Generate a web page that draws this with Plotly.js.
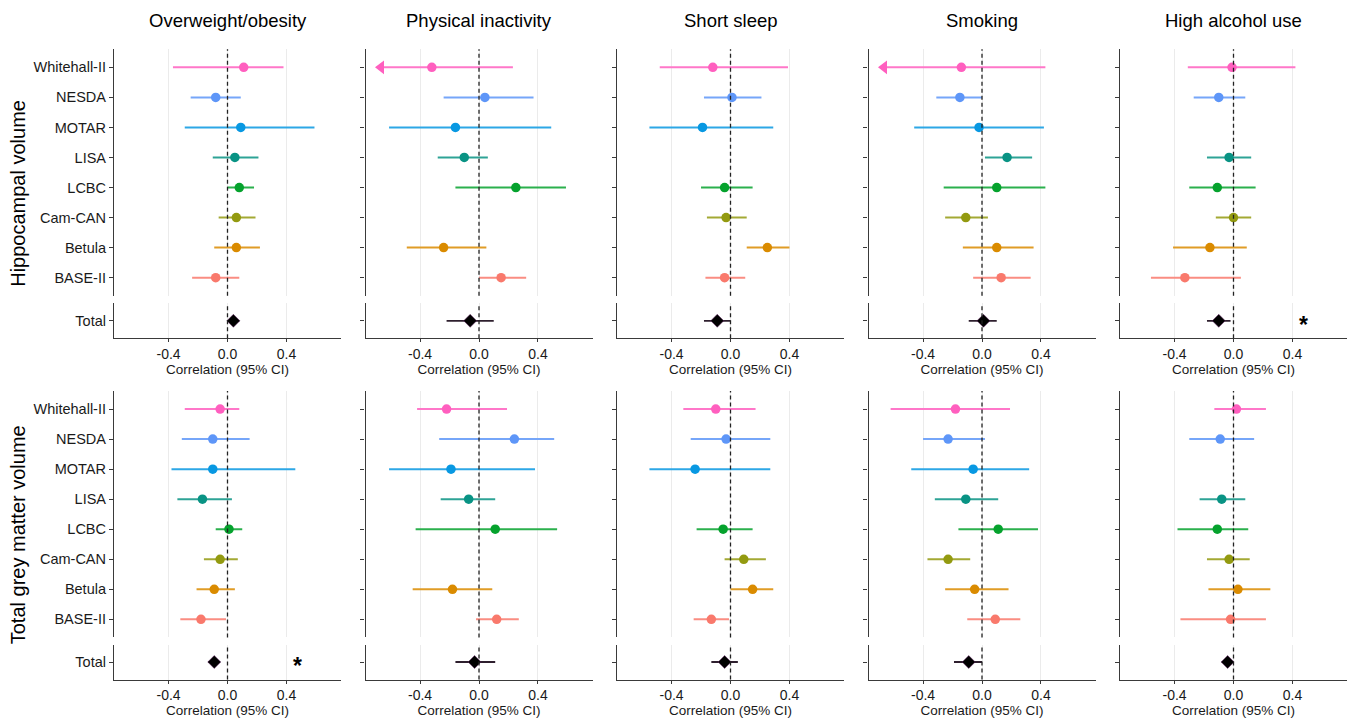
<!DOCTYPE html>
<html>
<head>
<meta charset="utf-8">
<script src="https://cdn.plot.ly/plotly-3.0.1.min.js"></script>
<style>html,body{margin:0;padding:0;background:#fff;}#chart{width:1349px;height:718px;}</style>
</head>
<body>
<div id="chart"></div>
<script>
// ---------- DATA ----------
const studies = ['Whitehall-II','NESDA','MOTAR','LISA','LCBC','Cam-CAN','Betula','BASE-II'];
const factors = ['Overweight/obesity','Physical inactivity','Short sleep','Smoking','High alcohol use'];
const outcomes = ['Hippocampal volume','Total grey matter volume'];
const xTickVals = [-0.4, 0, 0.4];
const xTickText = ['-0.4','0.0','0.4'];
const xLabel = 'Correlation (95% CI)';

// Hippocampal volume: rows = factors, columns = studies
const hippEst = [
  [0.11, -0.08, 0.09, 0.05, 0.08, 0.06, 0.06, -0.08],
  [-0.32, 0.04, -0.16, -0.10, 0.25, null, -0.24, 0.15],
  [-0.12, 0.01, -0.19, null, -0.04, -0.03, 0.25, -0.04],
  [-0.14, -0.15, -0.02, 0.17, 0.10, -0.11, 0.10, 0.13],
  [-0.01, -0.10, null, -0.03, -0.11, 0.00, -0.16, -0.33]
];
const hippLo = [
  [-0.37, -0.25, -0.29, -0.10, 0.00, -0.06, -0.09, -0.24],
  [-0.80, -0.24, -0.61, -0.28, -0.16, null, -0.49, 0.00],
  [-0.48, -0.18, -0.55, null, -0.20, -0.16, 0.11, -0.17],
  [-0.80, -0.31, -0.46, 0.02, -0.26, -0.25, -0.13, -0.06],
  [-0.31, -0.27, null, -0.18, -0.30, -0.12, -0.41, -0.56]
];
const hippHi = [
  [0.38, 0.09, 0.59, 0.21, 0.18, 0.19, 0.22, 0.08],
  [0.23, 0.37, 0.49, 0.06, 0.59, null, 0.05, 0.32],
  [0.39, 0.21, 0.29, null, 0.15, 0.11, 0.40, 0.10],
  [0.43, 0.00, 0.42, 0.34, 0.43, 0.04, 0.35, 0.33],
  [0.42, 0.08, null, 0.12, 0.15, 0.12, 0.09, 0.05]
];
const hippTotEst = [0.04, -0.06, -0.09, 0.01, -0.10];
const hippTotLo  = [0.00, -0.22, -0.18, -0.09, -0.18];
const hippTotHi  = [0.08, 0.10, 0.00, 0.10, -0.02];
const hippTotSig = [false, false, false, false, true];

// Total grey matter volume
const gmEst = [
  [-0.05, -0.10, -0.10, -0.17, 0.01, -0.05, -0.09, -0.18],
  [-0.22, 0.24, -0.19, -0.07, 0.11, null, -0.18, 0.12],
  [-0.10, -0.03, -0.24, null, -0.05, 0.09, 0.15, -0.13],
  [-0.18, -0.23, -0.06, -0.11, 0.11, -0.23, -0.05, 0.09],
  [0.02, -0.09, null, -0.08, -0.11, -0.03, 0.03, -0.02]
];
const gmLo = [
  [-0.29, -0.31, -0.38, -0.34, -0.08, -0.16, -0.21, -0.32],
  [-0.42, -0.27, -0.61, -0.26, -0.43, null, -0.45, -0.02],
  [-0.32, -0.27, -0.55, null, -0.23, -0.04, 0.00, -0.25],
  [-0.62, -0.40, -0.48, -0.32, -0.16, -0.37, -0.25, -0.10],
  [-0.13, -0.30, null, -0.23, -0.38, -0.18, -0.17, -0.36]
];
const gmHi = [
  [0.08, 0.15, 0.46, 0.03, 0.10, 0.07, 0.05, -0.01],
  [0.19, 0.51, 0.38, 0.11, 0.53, null, 0.09, 0.27],
  [0.17, 0.27, 0.27, null, 0.15, 0.24, 0.29, -0.01],
  [0.19, 0.02, 0.32, 0.11, 0.38, -0.08, 0.18, 0.26],
  [0.22, 0.14, null, 0.08, 0.10, 0.11, 0.25, 0.22]
];
const gmTotEst = [-0.09, -0.03, -0.04, -0.09, -0.04];
const gmTotLo  = [-0.13, -0.16, -0.13, -0.19, -0.08];
const gmTotHi  = [-0.05, 0.11, 0.05, 0.00, -0.01];
const gmTotSig = [true, false, false, false, false];

const studyColors = ['#FF5FBF','#5E96F8','#0898E2','#099384','#05A22D','#939A10','#DA8B00','#F9796C'];

// ---------- LAYOUT / DRAW ----------
const W = 1349, H = 718;
const XLIM = 0.7;
const XRANGE = [-0.77, 0.77];
const colX = [[114,341],[365.5,592.5],[617,844],[868.5,1095.5],[1120,1347]];
const rowStudyY = [[49.3,295.7],[391,637.4]];
const rowTotY = [[303.3,338.3],[644.5,679.5]];
const FONT = 'Liberation Sans, Arial, Helvetica, sans-serif';

function lighten(hex, f){
  const n = parseInt(hex.slice(1),16);
  const ch = [(n>>16)&255, (n>>8)&255, n&255].map(v => Math.round(v + (255 - v) * f));
  return `rgb(${ch[0]},${ch[1]},${ch[2]})`;
}
const pxX = p => p / W;
const pxY = p => 1 - p / H;

const data = [];
const layout = {
  width: W, height: H,
  margin: {l:0, r:0, t:0, b:0},
  paper_bgcolor: '#fff', plot_bgcolor: '#fff',
  showlegend: false,
  font: {family: FONT, color: '#1a1a1a'},
  shapes: [], annotations: []
};

const sets = [
  {est: hippEst, lo: hippLo, hi: hippHi, tEst: hippTotEst, tLo: hippTotLo, tHi: hippTotHi, sig: hippTotSig},
  {est: gmEst, lo: gmLo, hi: gmHi, tEst: gmTotEst, tLo: gmTotLo, tHi: gmTotHi, sig: gmTotSig}
];
const catOrder = studies.slice().reverse();

for (let r = 0; r < 2; r++) {
  const s = sets[r];
  for (let c = 0; c < 5; c++) {
    const iS = r*10 + c*2 + 1, iT = iS + 1;
    const xs = 'x' + (iS === 1 ? '' : iS), ys = 'y' + (iS === 1 ? '' : iS);
    const xt = 'x' + iT, yt = 'y' + iT;
    const xdom = [pxX(colX[c][0]), pxX(colX[c][1])];

    layout['xaxis' + (iS === 1 ? '' : iS)] = {
      domain: xdom, range: XRANGE, anchor: ys, tickvals: xTickVals,
      showgrid: true, gridcolor: '#EBEBEB', gridwidth: 1,
      showticklabels: false, zeroline: false, showline: false, ticks: '', fixedrange: true
    };
    layout['yaxis' + (iS === 1 ? '' : iS)] = {
      domain: [pxY(rowStudyY[r][1]), pxY(rowStudyY[r][0])], anchor: xs,
      type: 'category', categoryorder: 'array', categoryarray: catOrder, range: [-0.6, 7.6],
      showline: true, linecolor: '#3a3a3a', linewidth: 1.2,
      ticks: 'outside', ticklen: 4, tickcolor: '#3a3a3a', tickwidth: 1,
      showticklabels: c === 0, tickfont: {size: 14.5, color: '#1a1a1a', family: FONT},
      showgrid: false, zeroline: false, fixedrange: true
    };
    layout['xaxis' + iT] = {
      domain: xdom, range: XRANGE, anchor: yt, tickvals: xTickVals, ticktext: xTickText,
      showgrid: true, gridcolor: '#EBEBEB', gridwidth: 1,
      showline: true, linecolor: '#3a3a3a', linewidth: 1.2,
      ticks: 'outside', ticklen: 3, tickcolor: '#3a3a3a', tickwidth: 1,
      tickfont: {size: 14, color: '#1a1a1a', family: FONT},
      zeroline: false, fixedrange: true,
      title: {text: xLabel, font: {size: 13.5, color: '#1a1a1a', family: FONT}, standoff: 0}
    };
    layout['yaxis' + iT] = {
      domain: [pxY(rowTotY[r][1]), pxY(rowTotY[r][0])], anchor: xt,
      type: 'category', categoryarray: ['Total'], range: [-0.6, 0.6],
      showline: true, linecolor: '#3a3a3a', linewidth: 1.2,
      ticks: 'outside', ticklen: 4, tickcolor: '#3a3a3a', tickwidth: 1,
      showticklabels: c === 0, tickfont: {size: 14.5, color: '#1a1a1a', family: FONT},
      showgrid: false, zeroline: false, fixedrange: true
    };

    // dashed zero lines
    [[xs, ys], [xt, yt]].forEach(([xa, ya]) => {
      layout.shapes.push({type: 'line', xref: xa, yref: ya + ' domain', x0: 0, x1: 0, y0: 0, y1: 1,
        line: {color: '#222', width: 1.3, dash: '4px,3px'}, layer: 'above'});
    });

    // study CIs and estimates
    for (let k = 0; k < studies.length; k++) {
      const est = s.est[c][k], lo = s.lo[c][k], hi = s.hi[c][k];
      const col = studyColors[k];
      if (est === null) {
        data.push({type: 'scatter', x: [null], y: [studies[k]], xaxis: xs, yaxis: ys, mode: 'markers',
          marker: {size: 0}, hoverinfo: 'skip'});
        continue;
      }
      let xv, sym, sz;
      if (lo < -XLIM) {
        xv = [-XLIM + 0.035, est, hi]; sym = ['triangle-left', 'circle', 'circle']; sz = [12, 9.5, 0];
      } else {
        xv = [lo, est, hi]; sym = ['circle', 'circle', 'circle']; sz = [0, 9.5, 0];
      }
      data.push({
        type: 'scatter', x: xv, y: [studies[k], studies[k], studies[k]],
        xaxis: xs, yaxis: ys, mode: 'lines+markers', opacity: 1,
        line: {color: lighten(col, 0.15), width: 2},
        marker: {color: col, size: sz, symbol: sym, opacity: 1, line: {width: 0}},
        name: studies[k], hovertemplate: studies[k] + ': %{x:.2f}<extra></extra>'
      });
    }
    // total
    data.push({
      type: 'scatter', x: [s.tLo[c], s.tEst[c], s.tHi[c]], y: ['Total', 'Total', 'Total'],
      xaxis: xt, yaxis: yt, mode: 'lines+markers', opacity: 1,
      line: {color: '#2e1f2e', width: 1.8},
      marker: {color: '#000', size: [0, 10, 0], symbol: 'diamond', opacity: 1, line: {color: '#6a2a6a', width: 0.5}},
      name: 'Total', hovertemplate: 'Total: %{x:.2f}<extra></extra>'
    });
    if (s.sig[c]) {
      layout.annotations.push({xref: xt, yref: yt, x: 0.472, y: 0, text: '<b>*</b>', showarrow: false,
        font: {size: 23, color: '#000', family: FONT}, yshift: -4});
    }
    // column titles on top row
    if (r === 0) {
      layout.annotations.push({xref: 'paper', yref: 'paper', x: (xdom[0] + xdom[1]) / 2, y: pxY(20),
        text: factors[c], showarrow: false, xanchor: 'center', yanchor: 'middle',
        font: {size: 18.5, color: '#000', family: FONT}});
    }
  }
  // row titles
  layout.annotations.push({xref: 'paper', yref: 'paper', x: pxX(18),
    y: pxY((rowStudyY[r][0] + rowTotY[r][1]) / 2), text: outcomes[r], textangle: -90,
    showarrow: false, xanchor: 'center', yanchor: 'middle',
    font: {size: 20, color: '#000', family: FONT}});
}

Plotly.newPlot('chart', data, layout, {displayModeBar: false});
</script>
</body>
</html>
